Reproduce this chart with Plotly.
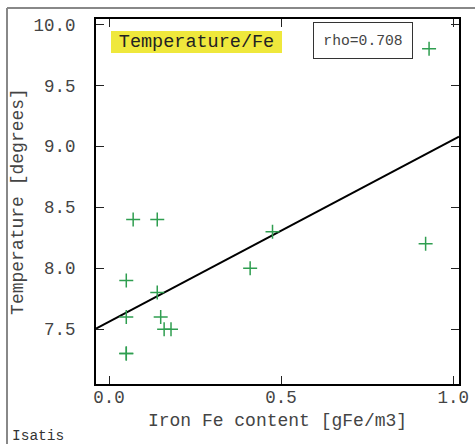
import plotly.graph_objects as go

# data
iron_fe = [0.05, 0.14, 0.05, 0.15, 0.16, 0.18, 0.05, 0.05, 0.07, 0.14, 0.41, 0.475, 0.92, 0.93]
temperature = [7.9, 7.8, 7.6, 7.6, 7.5, 7.5, 7.3, 7.3, 8.4, 8.4, 8.0, 8.3, 8.2, 9.8]
reg_intercept = 7.562
reg_slope = 1.493
rho_text = "rho=0.708"
x_ticks = [0.0, 0.5, 1.0]
x_tick_labels = ["0.0", "0.5", "1.0"]
y_ticks = [7.5, 8.0, 8.5, 9.0, 9.5, 10.0]
y_tick_labels = ["7.5", "8.0", "8.5", "9.0", "9.5", "10.0"]
x_range = [-0.038, 1.017]
y_range = [7.05, 10.045]

FONT = "Liberation Mono, Cousine, Courier New, monospace"

W, H = 475, 444
L, R, T, B = 96, 16, 19, 60
pw, ph = W - L - R, H - T - B


def px2paper_x(px):
    return (px - L) / pw


def px2paper_y(py):
    return (H - B - py) / ph


fig = go.Figure()

fig.add_trace(go.Scatter(
    x=x_range,
    y=[reg_intercept + reg_slope * v for v in x_range],
    mode="lines",
    line=dict(color="black", width=2),
    hoverinfo="skip",
    showlegend=False,
))

fig.add_trace(go.Scatter(
    x=iron_fe, y=temperature, mode="markers",
    marker=dict(symbol="cross-thin", size=10,
                line=dict(color="#2f9e50", width=1.5), color="#2f9e50"),
    showlegend=False,
))

axis_common = dict(
    showline=True, linecolor="black", linewidth=2, mirror="ticks",
    ticks="inside", ticklen=8, tickwidth=1, tickcolor="#222",
    showgrid=False, zeroline=False, automargin=False,
    tickfont=dict(family=FONT, size=17.5, color="#444"),
)

fig.update_layout(
    template="none",
    width=W, height=H,
    margin=dict(l=L, r=R, t=T, b=B, pad=0, autoexpand=False),
    paper_bgcolor="white", plot_bgcolor="white",
    xaxis=dict(range=x_range, tickvals=x_ticks, ticktext=x_tick_labels,
               ticklabelstandoff=-4,
               title=dict(text="Iron Fe content [gFe/m3]",
                          font=dict(family=FONT, size=18, color="#444"),
                          standoff=6),
               **axis_common),
    yaxis=dict(range=y_range, tickvals=y_ticks, ticktext=y_tick_labels,
               ticklabelstandoff=15,
               title=dict(text="Temperature [degrees]",
                          font=dict(family=FONT, size=18, color="#444"),
                          standoff=5),
               **axis_common),
    shapes=[
        dict(type="line", xref="paper", yref="paper",
             x0=px2paper_x(7), x1=px2paper_x(480), y0=px2paper_y(8), y1=px2paper_y(8),
             line=dict(color="#888", width=2)),
        dict(type="line", xref="paper", yref="paper",
             x0=px2paper_x(7), x1=px2paper_x(7), y0=px2paper_y(8), y1=px2paper_y(450),
             line=dict(color="#888", width=2)),
    ],
    annotations=[
        dict(text="Temperature/Fe", xref="paper", yref="paper",
             x=px2paper_x(111), y=px2paper_y(31), xanchor="left", yanchor="top",
             showarrow=False, bgcolor="#efe83c", width=171, height=22,
             borderpad=0, borderwidth=0,
             font=dict(family=FONT, size=18.5, color="#222")),
        dict(text=rho_text, xref="paper", yref="paper",
             x=px2paper_x(313), y=px2paper_y(22), xanchor="left", yanchor="top",
             showarrow=False, bgcolor="white", width=98, height=35,
             borderpad=0, borderwidth=1, bordercolor="#333",
             font=dict(family=FONT, size=14.7, color="#444")),
        dict(text="Isatis", xref="paper", yref="paper",
             x=px2paper_x(10), y=px2paper_y(446), xanchor="left", yanchor="bottom",
             showarrow=False,
             font=dict(family=FONT, size=14.5, color="#333")),
    ],
)

fig.write_html("out.html", config={"displayModeBar": False},
               post_script="document.body.style.margin='0';document.body.style.overflow='hidden';")
